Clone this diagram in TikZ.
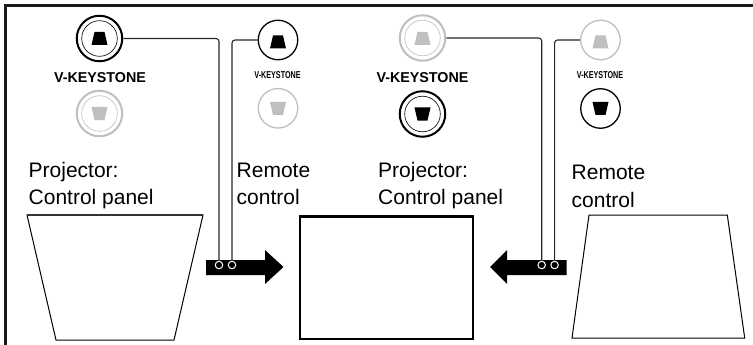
\documentclass[tikz,border=0pt]{standalone}
\usepackage{fontspec}
\setmainfont{Liberation Sans}
\definecolor{off}{gray}{0.75}
\tikzset{
 x=1pt,y=-1pt,
 wire/.style={draw=black!85,line width=1.1pt,rounded corners=3pt},
 btn/.style={circle,draw,line width=1.3pt,minimum size=39.5pt,inner sep=0,fill=white},
 lab/.style={font=\fontsize{21}{21}\selectfont,anchor=base west,inner sep=0},
 kbig/.style={font=\bfseries\fontsize{14.3}{14.3}\selectfont,anchor=base,inner sep=0},
 ksmall/.style={font=\bfseries\fontsize{10}{10}\selectfont,anchor=base,inner sep=0},
 hole/.style={circle,draw=white,line width=1pt,fill=black,minimum size=7.5pt,inner sep=0},
}
\newcommand{\trapup}[3]{\fill[#3] (#1-5,#2-6.5) -- (#1+5,#2-6.5) -- (#1+8,#2+6.5) -- (#1-8,#2+6.5) -- cycle;}
\newcommand{\trapdn}[3]{\fill[#3] (#1-8,#2-6.5) -- (#1+8,#2-6.5) -- (#1+5,#2+6.5) -- (#1-5,#2+6.5) -- cycle;}
\newcommand{\dblbtn}[4]{\node[circle,draw=#3,line width=2pt,minimum size=45.5pt,inner sep=0,fill=white] (#4) at (#1,#2) {};
 \draw[#3,line width=0.6pt] (#1,#2) circle (17.8);}
\begin{document}
\begin{tikzpicture}
\useasboundingbox (0,0) rectangle (753,345);
% frame
\draw[line width=2.6pt,draw=black!90] (5.3,345) -- (5.3,5.6) -- (753,5.6);
% keystone images
\draw[line width=1pt] (27,215) -- (203,215) -- (174,340) -- (56,340) -- cycle;
\draw[line width=1.8pt,black!80] (27,215) -- (203,215);
\draw[line width=1pt] (589,215) -- (727.3,215) -- (744.7,338) -- (572,338) -- cycle;
\draw[line width=2.3pt] (300,216.6) rectangle (473,338.8);
% arrows
\fill (206,260) -- (265,260) -- (265,250) -- (283.5,267) -- (265,284) -- (265,275) -- (206,275) -- cycle;
\fill (566.7,260) -- (507,260) -- (507,250) -- (490,267) -- (507,284) -- (507,275) -- (566.7,275) -- cycle;
% buttons
\coordinate (a1) at (219,265);
\coordinate (a2) at (232,265);
\coordinate (b1) at (541.7,265);
\coordinate (b2) at (554.6,265);
\dblbtn{99.5}{38.5}{black}{p1}
\node[btn] (r1) at (278,40) {};
\dblbtn{422.5}{38}{off}{p2}
\node[btn,draw=off] (r2) at (600.5,40) {};
\draw[wire] (p1) -- (219,38.5) -- (a1);
\draw[wire] (r1) -- (232,40) -- (a2);
\draw[wire] (p2) -- (541.7,38) -- (b1);
\draw[wire] (r2) -- (554.6,40) -- (b2);
\node[hole] at (a1) {}; \node[hole] at (a2) {};
\node[hole] at (b1) {}; \node[hole] at (b2) {};
\trapup{99.5}{38.5}{black}
\trapup{278}{42}{black}
\trapup{422.5}{38.5}{off}
\trapup{600.5}{42}{off}
\dblbtn{99.5}{113.5}{off}{p1d}
\trapdn{99.5}{113.5}{off}
\node[btn,draw=off] (r1d) at (278,108.3) {};
\trapdn{278}{108.5}{off}
\dblbtn{422.5}{114}{black}{p2d}
\trapdn{422.5}{114}{black}
\node[btn] (r2d) at (600.5,108.5) {};
\trapdn{600.5}{108.5}{black}
\node[kbig] (k1) at (100,83) {\scalebox{1.0}[1]{V-KEYSTONE}};
\node[ksmall] (k2) at (277.5,79) {\scalebox{0.72}[1]{V-KEYSTONE}};
\node[kbig] (k3) at (422.5,83) {\scalebox{1.0}[1]{V-KEYSTONE}};
\node[ksmall] (k4) at (600,79) {\scalebox{0.72}[1]{V-KEYSTONE}};
\node[lab] (t1) at (28.5,177) {Projector:};
\node[lab] (t2) at (28.5,204) {Control panel};
\node[lab] (t3) at (236.5,177) {Remote};
\node[lab] (t4) at (236.5,204) {control};
\node[lab] (t5) at (378,177) {Projector:};
\node[lab] (t6) at (378,204) {Control panel};
\node[lab] (t7) at (571.5,179.5) {Remote};
\node[lab] (t8) at (571.5,207) {control};
\end{tikzpicture}
\end{document}
